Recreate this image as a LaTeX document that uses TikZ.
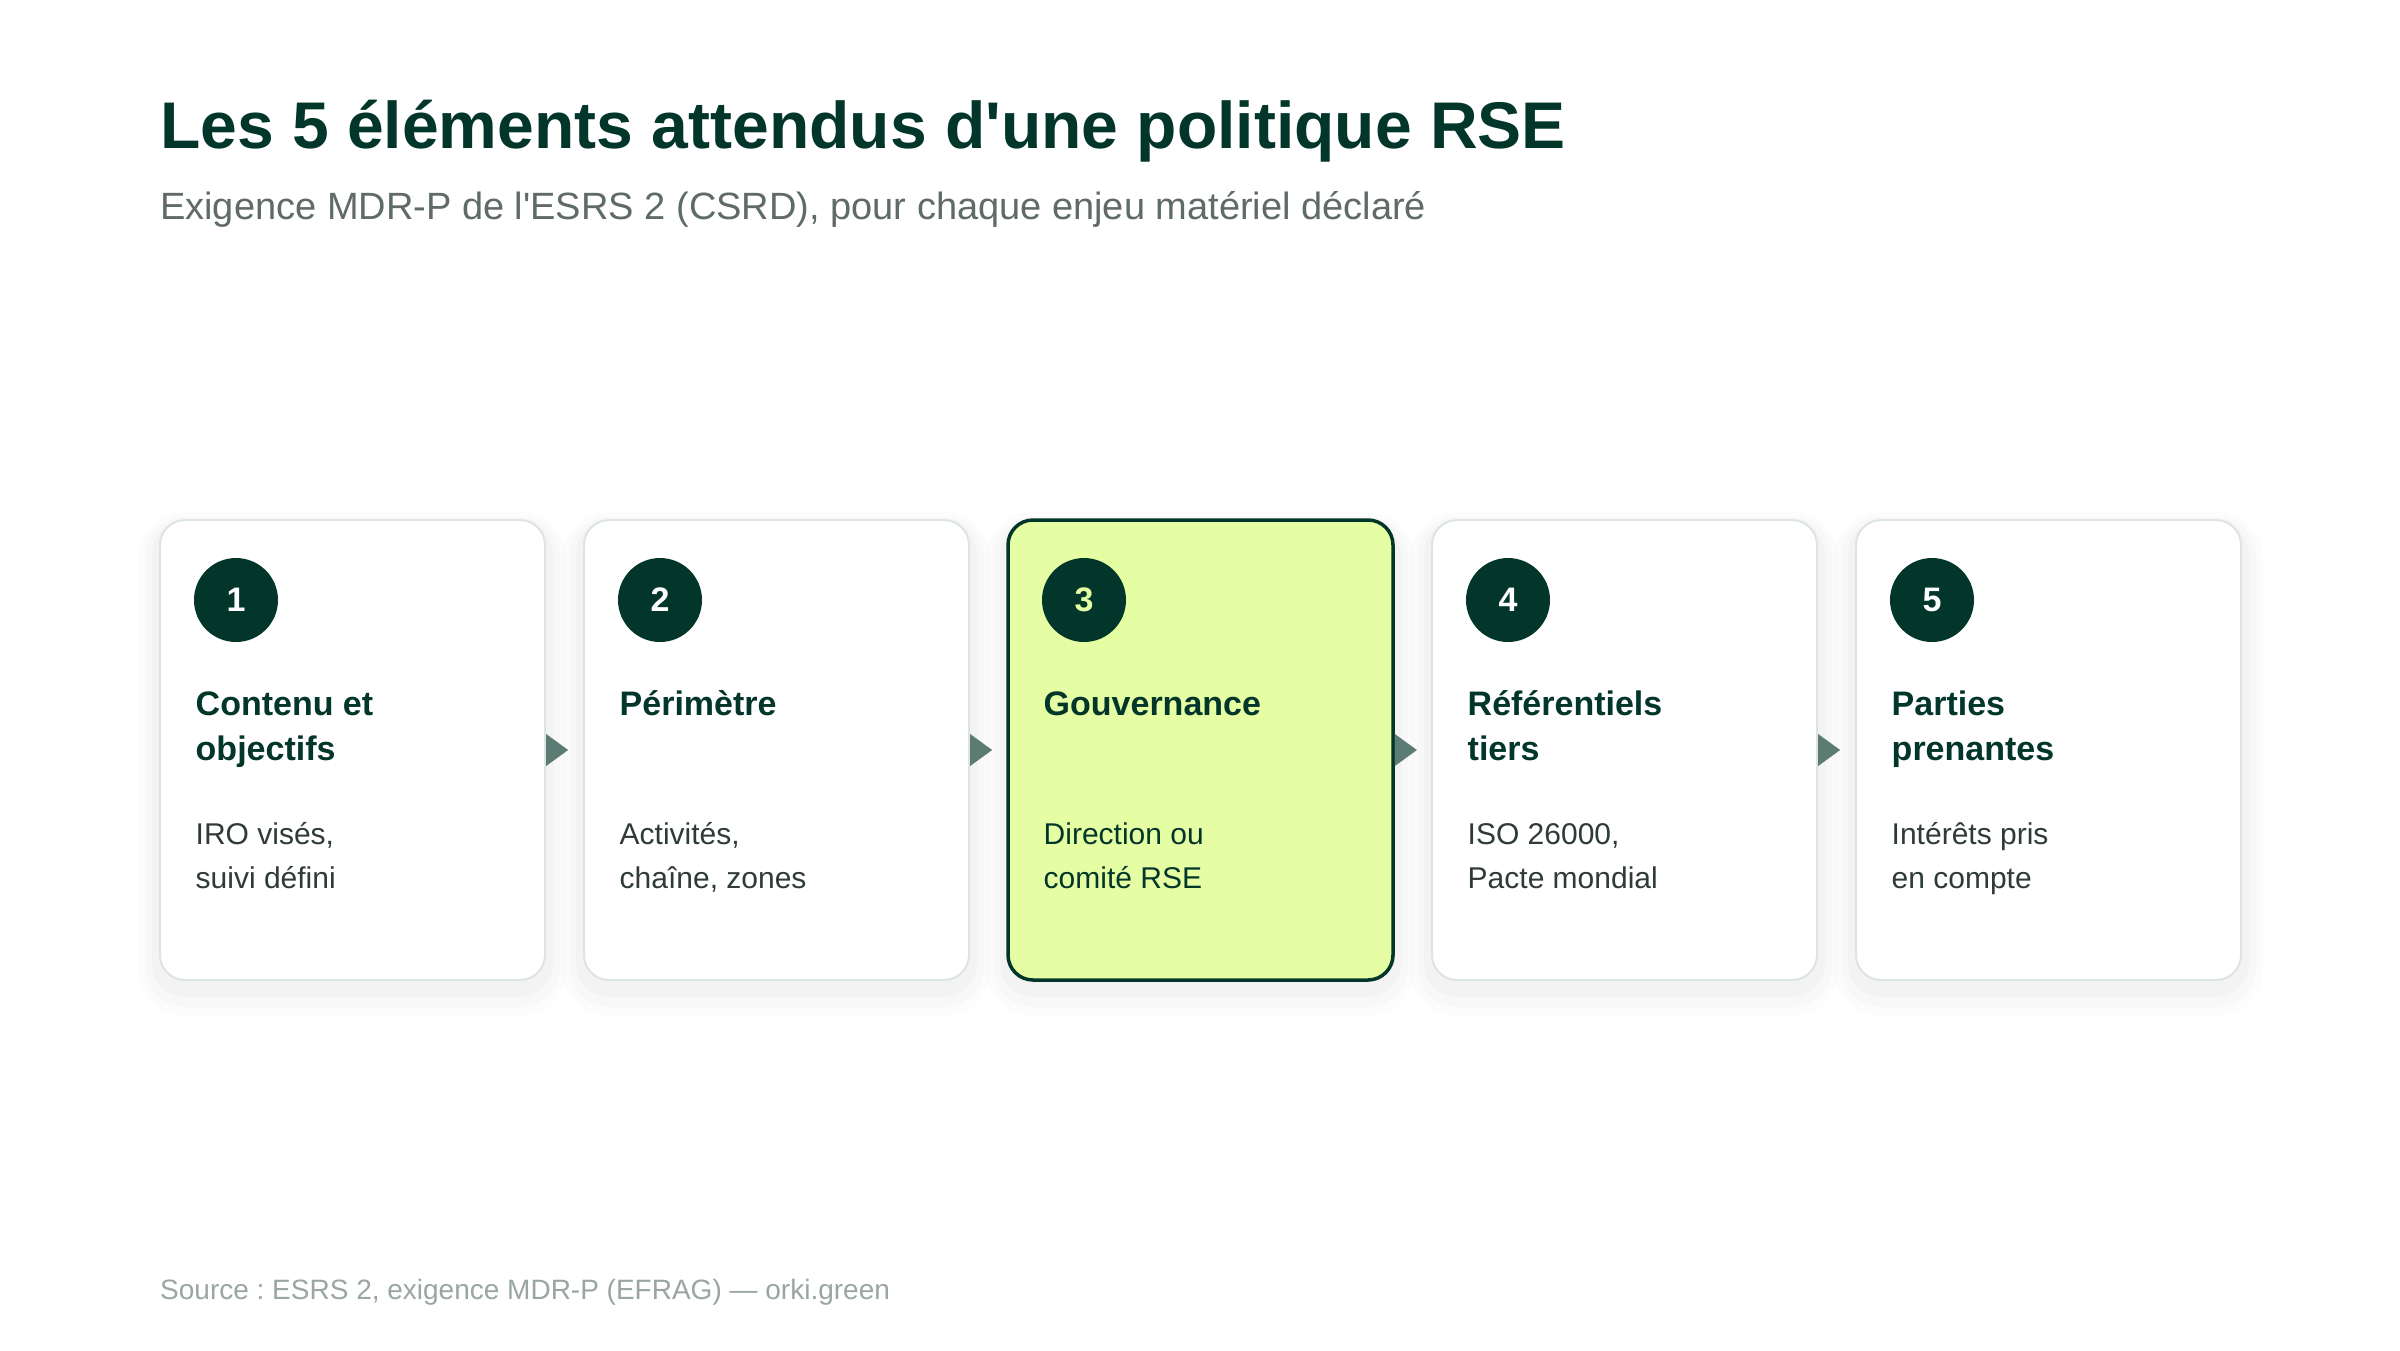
\documentclass[tikz,border=0pt]{standalone}
\usepackage{fontspec}
\setmainfont{Liberation Sans}
\usepackage{tikz}
\usetikzlibrary{arrows.meta}
\frenchspacing

\definecolor{deep}{HTML}{03362A}
\definecolor{lime}{HTML}{E6FEA3}
\definecolor{cardline}{HTML}{DDE5E2}
\definecolor{ink}{HTML}{2F3B37}
\definecolor{subgray}{HTML}{5F6B67}
\definecolor{footgray}{HTML}{9AA6A1}
\definecolor{arrowc}{HTML}{5B7B73}

\begin{document}
\begin{tikzpicture}[x=1pt,y=-1pt,
    card/.style={draw=cardline, line width=2pt, fill=white, rounded corners=25pt,
        minimum width=385pt, minimum height=460pt, inner sep=0pt,
        preaction={draw=black, draw opacity=0.012, line width=44pt, transform canvas={yshift=-14pt}},
        preaction={draw=black, draw opacity=0.015, line width=30pt, transform canvas={yshift=-12pt}},
        preaction={draw=black, draw opacity=0.02, line width=16pt, transform canvas={yshift=-9pt}}},
    hicard/.style={card, draw=deep, line width=3.5pt, fill=lime},
    num/.style={circle, fill=deep, minimum size=84pt, inner sep=0pt, text=white, font=\bfseries\fontsize{34}{40}\selectfont},
    ttl/.style={anchor=north west, inner sep=0pt, align=left, text=deep, font=\bfseries\fontsize{34}{45}\selectfont},
    desc/.style={anchor=north west, inner sep=0pt, align=left, text=ink, font=\fontsize{30}{44}\selectfont},
    link/.style={-{Triangle[length=22pt,width=32pt]}, draw=arrowc, fill=arrowc, line width=0.1pt}]
    \fill[white] (0,0) rectangle (2400,1350);
    \useasboundingbox (0,0) rectangle (2400,1350);
    \node[anchor=base west, inner sep=0pt, text=deep, font=\bfseries\fontsize{66}{79}\selectfont] (title) at (160,148) {Les 5 éléments attendus d\textquotesingle une politique RSE};
    \node[anchor=base west, inner sep=0pt, text=subgray, font=\fontsize{38}{46}\selectfont] (sub) at (160,219) {Exigence MDR-P de l\textquotesingle ESRS 2 (CSRD), pour chaque enjeu matériel déclaré};
    \node[card] (c1) at (352.5,750) {};
    \node[card] (c2) at (776.5,750) {};
    \node[hicard] (c3) at (1200.5,750) {};
    \node[card] (c4) at (1624.5,750) {};
    \node[card] (c5) at (2048.5,750) {};
    \draw[link] (c1.east) -- ([xshift=22pt]c1.east);
    \draw[link] (c2.east) -- ([xshift=22pt]c2.east);
    \draw[link] (c3.east) -- ([xshift=22pt]c3.east);
    \draw[link] (c4.east) -- ([xshift=22pt]c4.east);
    \node[num] (n1) at (236,600) {1};
    \node[num] (n2) at (660,600) {2};
    \node[num, text=lime] (n3) at (1084,600) {3};
    \node[num] (n4) at (1508,600) {4};
    \node[num] (n5) at (1932,600) {5};
    \node[ttl] (t1) at (195.5,683.5) {\strut Contenu et\\objectifs};
    \node[ttl] (t2) at (619.5,683.5) {\strut Périmètre};
    \node[ttl] (t3) at (1043.5,683.5) {\strut Gouvernance};
    \node[ttl] (t4) at (1467.5,683.5) {\strut Référentiels\\tiers};
    \node[ttl] (t5) at (1891.5,683.5) {\strut Parties\\prenantes};
    \node[desc] (d1) at (195.5,813.2) {\strut IRO visés,\\suivi défini};
    \node[desc] (d2) at (619.5,813.2) {\strut Activités,\\chaîne, zones};
    \node[desc, text=deep] (d3) at (1043.5,813.2) {\strut Direction ou\\comité RSE};
    \node[desc] (d4) at (1467.5,813.2) {\strut ISO 26000,\\Pacte mondial};
    \node[desc] (d5) at (1891.5,813.2) {\strut Intérêts pris\\en compte};
    \node[anchor=base west, inner sep=0pt, text=footgray, font=\fontsize{28}{34}\selectfont] (src) at (160,1299) {Source : ESRS 2, exigence MDR-P (EFRAG) — orki.green};
\end{tikzpicture}
\end{document}
